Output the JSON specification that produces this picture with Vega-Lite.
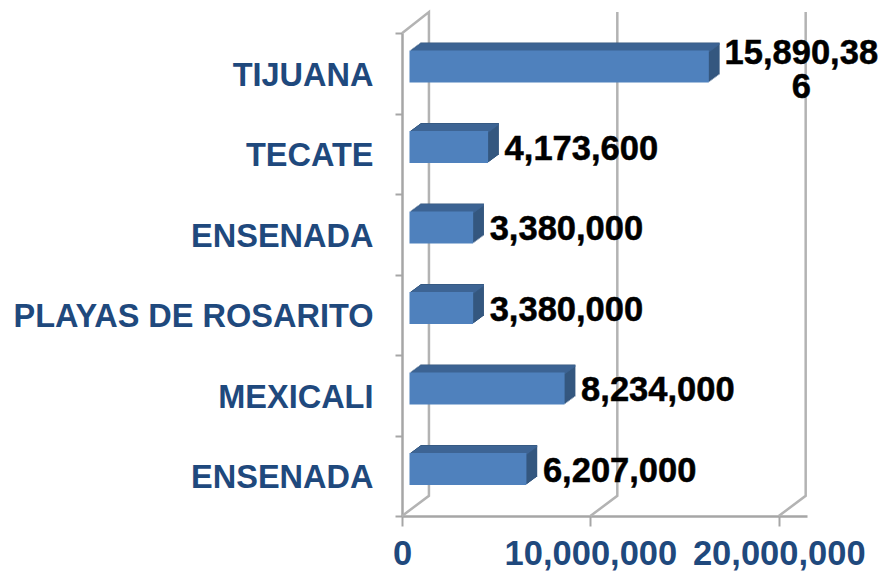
{
"$schema":"https://vega.github.io/schema/vega-lite/v6.json",
"width":405,"height":504,
"autosize":"none",
"padding":{"left":402,"top":12,"right":75,"bottom":56},
"background":"white",
"config":{"view":{"stroke":null}},
"resolve":{"scale":{"y":"independent"}},
"layer":[
{"data":{"values":[
{"grupo":"a","valor":0,"altura":0,"orden":1},{"grupo":"a","valor":1430000,"altura":0.04,"orden":2},{"grupo":"a","valor":1430000,"altura":1,"orden":3},{"grupo":"a","valor":0,"altura":0.958,"orden":4},
{"grupo":"b","valor":10000000,"altura":0,"orden":1},{"grupo":"b","valor":11430000,"altura":0.04,"orden":2},{"grupo":"b","valor":11430000,"altura":1,"orden":3},
{"grupo":"c","valor":20000000,"altura":0,"orden":1},{"grupo":"c","valor":21430000,"altura":0.04,"orden":2},{"grupo":"c","valor":21430000,"altura":1,"orden":3}
]},
"mark":{"type":"line","stroke":"#b3b3b3","strokeWidth":2.5,"clip":false},
"encoding":{
"x":{"field":"valor","type":"quantitative","scale":{"domain":[0,21500000],"nice":false},"axis":{"values":[0,10000000,20000000],"format":",d","title":null,"grid":false,"domainColor":"#a6a6a6","domainWidth":2.5,"tickColor":"#a6a6a6","tickWidth":2,"tickSize":10,"labelFont":"Liberation Sans","labelFontWeight":"bold","labelFontSize":34.5,"labelColor":"#1f497d","labelPadding":11,"labelOverlap":false,"labelBound":false,"labelFlush":false}},
"y":{"field":"altura","type":"quantitative","scale":{"domain":[0,1],"nice":false},"axis":null},
"detail":{"field":"grupo"},
"order":{"field":"orden","type":"quantitative"}
}},
{"data":{"values":[
{"clave":"TIJUANA|1","municipio":"TIJUANA","valor":15890386,"etiqueta":"15,890,38\n6"},
{"clave":"TECATE|2","municipio":"TECATE","valor":4173600,"etiqueta":"4,173,600"},
{"clave":"ENSENADA|3","municipio":"ENSENADA","valor":3380000,"etiqueta":"3,380,000"},
{"clave":"PLAYAS DE ROSARITO|4","municipio":"PLAYAS DE ROSARITO","valor":3380000,"etiqueta":"3,380,000"},
{"clave":"MEXICALI|5","municipio":"MEXICALI","valor":8234000,"etiqueta":"8,234,000"},
{"clave":"ENSENADA|6","municipio":"ENSENADA","valor":6207000,"etiqueta":"6,207,000"}
]},
"encoding":{
"x":{"field":"valor","type":"quantitative"},
"y":{"field":"clave","type":"nominal","sort":null,"scale":{"range":[21,504],"paddingInner":0,"paddingOuter":0},"axis":{"title":null,"labelExpr":"split(datum.label,'|')[0]","grid":false,"bandPosition":0,"tickBand":"extent","domainColor":"#a6a6a6","domainWidth":2.5,"tickColor":"#a6a6a6","tickWidth":2,"tickSize":7,"labelFont":"Liberation Sans","labelFontWeight":"bold","labelFontSize":32.5,"labelColor":"#1f497d","labelPadding":22,"labelOffset":2,"labelLimit":400,"labelOverlap":false}}
},
"layer":[
{"mark":{"type":"bar","size":32,"color":"#34577f","xOffset":8.85,"yOffset":-7.75}},
{"mark":{"type":"bar","size":32,"color":"#34577f","xOffset":10.2,"yOffset":-8.75}},
{"mark":{"type":"bar","size":32,"color":"#34577f","xOffset":11.55,"yOffset":-9.75}},
{"mark":{"type":"bar","size":32,"color":"#34577f","xOffset":12.9,"yOffset":-10.75}},
{"mark":{"type":"bar","size":32,"color":"#34577f","xOffset":14.25,"yOffset":-11.75}},
{"mark":{"type":"bar","size":32,"color":"#34577f","xOffset":15.6,"yOffset":-12.75}},
{"mark":{"type":"bar","size":32,"color":"#34577f","xOffset":16.95,"yOffset":-13.75}},
{"mark":{"type":"bar","size":32,"color":"#34577f","xOffset":18.3,"yOffset":-14.75}},
{"mark":{"type":"bar","size":1.6,"color":"#3e6594","xOffset":8.85,"yOffset":-22.25}},
{"mark":{"type":"bar","size":1.6,"color":"#3e6594","xOffset":10.2,"yOffset":-23.25}},
{"mark":{"type":"bar","size":1.6,"color":"#3e6594","xOffset":11.55,"yOffset":-24.25}},
{"mark":{"type":"bar","size":1.6,"color":"#3e6594","xOffset":12.9,"yOffset":-25.25}},
{"mark":{"type":"bar","size":1.6,"color":"#3e6594","xOffset":14.25,"yOffset":-26.25}},
{"mark":{"type":"bar","size":1.6,"color":"#3e6594","xOffset":15.6,"yOffset":-27.25}},
{"mark":{"type":"bar","size":1.6,"color":"#3e6594","xOffset":16.95,"yOffset":-28.25}},
{"mark":{"type":"bar","size":1.6,"color":"#3e6594","xOffset":18.3,"yOffset":-29.25}},
{"mark":{"type":"bar","size":32,"color":"#4f81bd","xOffset":7.5,"yOffset":-6.75}},
{"transform":[{"filter":"datum.valor < 15000000"}],
 "mark":{"type":"text","align":"left","baseline":"middle","font":"Liberation Sans","fontWeight":"bold","fontSize":34.5,"color":"#000000","stroke":"#000000","strokeWidth":0.5,"xOffset":24,"yOffset":-4},
 "encoding":{"text":{"field":"etiqueta"}}},
{"transform":[{"filter":"datum.valor >= 15000000"}],
 "mark":{"type":"text","align":"center","baseline":"middle","lineBreak":"\n","lineHeight":34,"font":"Liberation Sans","fontWeight":"bold","fontSize":34.5,"color":"#000000","stroke":"#000000","strokeWidth":0.5,"xOffset":100,"yOffset":-19},
 "encoding":{"text":{"field":"etiqueta"}}}
]}
]
}
